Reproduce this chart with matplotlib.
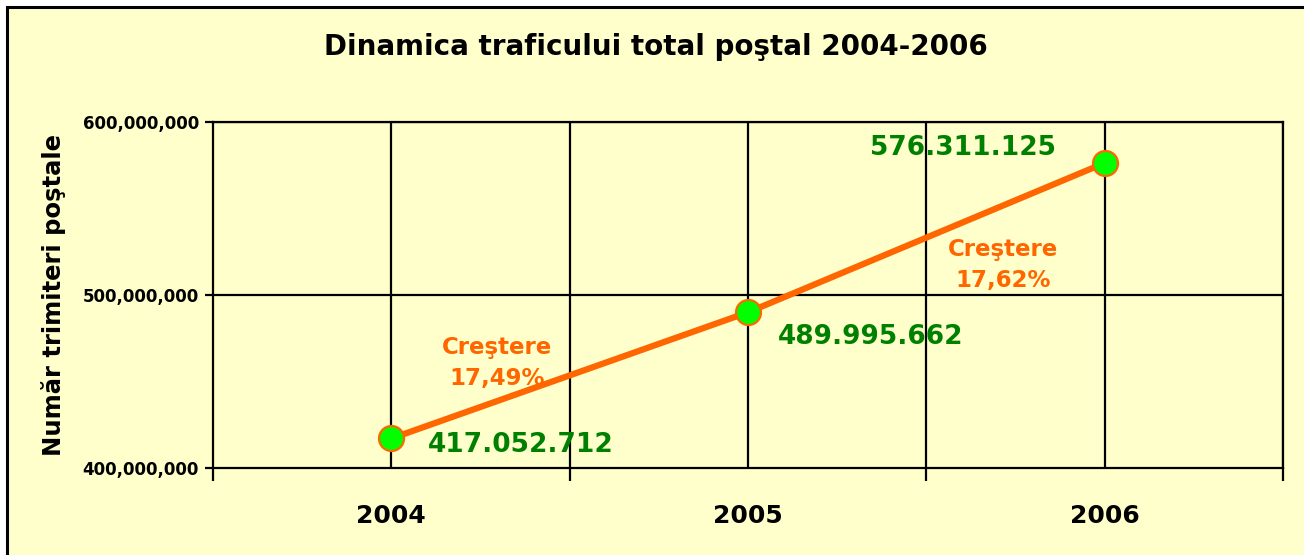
import numpy as np
import matplotlib.pyplot as plt
from matplotlib.patches import Rectangle

years = ["2004", "2005", "2006"]
traffic = [417052712, 489995662, 576311125]
y_ticks = [400000000, 500000000, 600000000]

title = "Dinamica traficului total poştal 2004-2006"
y_label = "Număr trimiteri poştale"

BG = "#FFFFCC"
ORANGE = "#FF6600"
GREEN = "#008000"


def dotted(n):
    return f"{n:,}".replace(",", ".")


def main():
    fig = plt.figure(figsize=(13.04, 5.55), dpi=100)
    fig.patch.set_facecolor("white")
    fig.patches.append(Rectangle((7 / 1304, -0.05), 1.1, 1 - 7 / 555 + 0.05,
                                 transform=fig.transFigure, facecolor=BG,
                                 edgecolor="black", linewidth=2.2, zorder=-10))

    ax = fig.add_axes([213 / 1304, 1 - 468 / 555, 1070 / 1304, 346 / 555])
    ax.set_facecolor(BG)
    x = np.arange(len(years))

    ax.set_xlim(-0.5, len(years) - 0.5)
    ax.set_ylim(y_ticks[0], y_ticks[-1])

    for xv in np.arange(0, len(years), 0.5):
        ax.axvline(xv, color="black", lw=1.6, zorder=1)
    for yv in y_ticks[1:]:
        ax.axhline(yv, color="black", lw=1.6, zorder=1)

    ax.plot(x, traffic, color=ORANGE, lw=4.5, marker="o", markersize=18,
            markerfacecolor="#00FF00", markeredgecolor=ORANGE,
            markeredgewidth=1.6, zorder=3, clip_on=False)

    ax.set_yticks(y_ticks)
    ax.set_yticklabels([f"{v:,}" for v in y_ticks], fontsize=12,
                       fontweight="bold")
    ax.tick_params(axis="y", direction="out", length=6, width=1.6, pad=4)

    ax.set_xticks(np.arange(-0.5, len(years), 1.0))
    ax.set_xticklabels([])
    ax.set_xticks(x, minor=True)
    ax.set_xticklabels(years, minor=True, fontsize=18, fontweight="bold")
    ax.tick_params(axis="x", which="major", direction="out", length=9,
                   width=1.6)
    ax.tick_params(axis="x", which="minor", length=0, pad=26)

    for s in ax.spines.values():
        s.set_linewidth(1.6)

    ax.set_ylabel(y_label, fontsize=17.5, fontweight="bold", labelpad=12)

    # value labels
    offsets = [(93, -5), (88, -18), (-102, 11)]
    for xi, v, off in zip(x, traffic, offsets):
        ax.annotate(dotted(v), (xi, v), xytext=off, textcoords="offset points",
                    ha="center", va="center", color=GREEN, fontsize=19,
                    fontweight="bold", zorder=4)

    # growth labels
    growth_offsets = [(-52, 9), (55, -20)]
    for i, off in enumerate(growth_offsets):
        g = (traffic[i + 1] / traffic[i] - 1) * 100
        txt = "Creştere\n" + f"{g:.2f}".replace(".", ",") + "%"
        mid = (x[i] + x[i + 1]) / 2, (traffic[i] + traffic[i + 1]) / 2
        ax.annotate(txt, mid, xytext=off, textcoords="offset points",
                    ha="center", va="center", color=ORANGE, fontsize=16.5,
                    fontweight="bold", linespacing=1.45, zorder=4)

    fig.text(656 / 1304, 1 - 47 / 555, title, ha="center", va="center",
             fontsize=20, fontweight="bold")

    fig.savefig("out.png", dpi=100, facecolor=fig.get_facecolor())


if __name__ == '__main__':
    main()
